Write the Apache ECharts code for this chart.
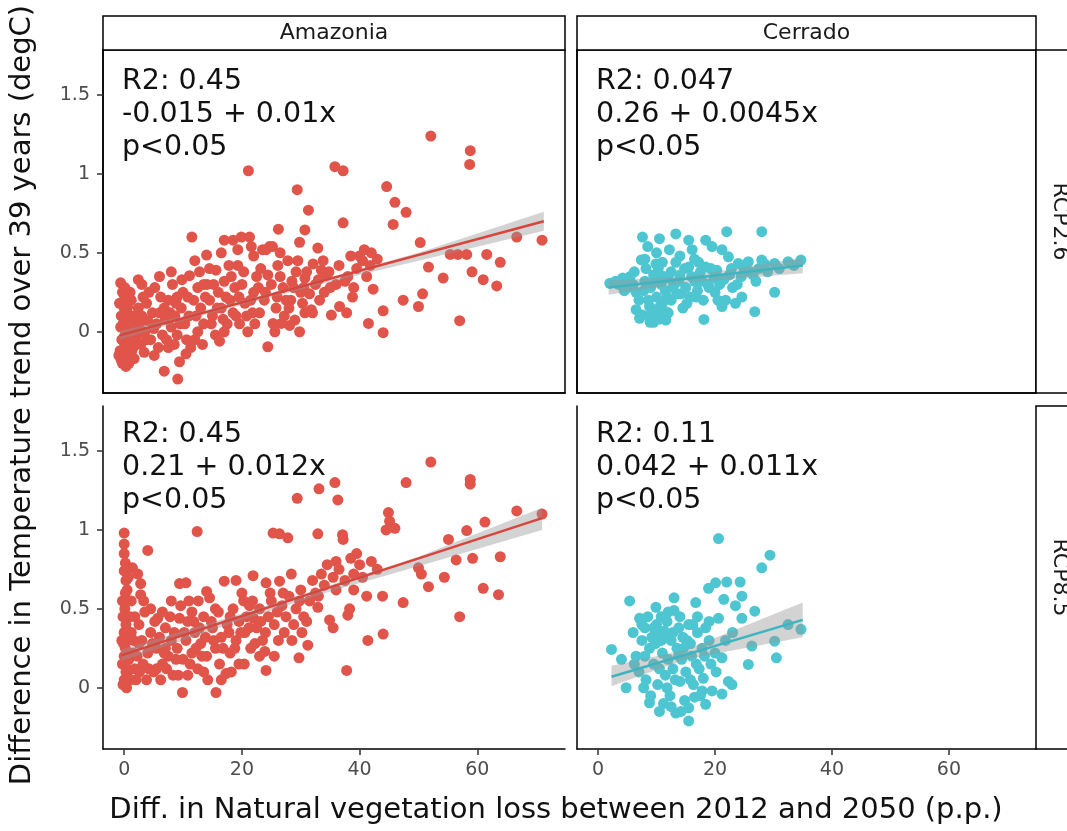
<!DOCTYPE html>
<html><head><meta charset="utf-8">
<script src="https://cdn.jsdelivr.net/npm/echarts@6/dist/echarts.min.js"></script>
<style>html,body{margin:0;padding:0;background:#fff}#c{width:1067px;height:831px}</style>
</head><body><div id="c"></div>
<script>
const regions = ['Amazonia', 'Cerrado'];
const scenarios = ['RCP2.6', 'RCP8.5'];
const xTicks = [0, 20, 40, 60];
const yTicks = [0, 0.5, 1, 1.5];
const xTitle = 'Diff. in Natural vegetation loss between 2012 and 2050 (p.p.)';
const yTitle = 'Difference in Temperature trend over 39 years (degC)';
const statsText = [
  ['R2: 0.45', '-0.015 + 0.01x', 'p<0.05'],
  ['R2: 0.047', '0.26 + 0.0045x', 'p<0.05'],
  ['R2: 0.45', '0.21 + 0.012x', 'p<0.05'],
  ['R2: 0.11', '0.042 + 0.011x', 'p<0.05']
];

// Amazonia, RCP2.6
const amazonia26 = [
[-0.8,0.18],[0,0.15],[0.5,0.12],[-0.5,0.1],[0.3,0.08],[0.8,0.05],[-0.6,0.03],[0.2,0.0],[0.6,-0.02],[-0.4,-0.05],[0.1,-0.08],[0.7,-0.1],[-0.7,-0.12],[0.2,-0.15],[0.4,-0.18],[-0.3,-0.2],[1.0,-0.17],[1.2,0.2],[1.5,0.1],[1.8,0.02],[2.0,-0.05],[1.3,-0.12],[2.4,0.15],[2.6,0.05],[2.2,-0.02],[3.0,0.1],[3.4,-0.13],[1.7,-0.17],[-0.6,0.31],[2.4,0.33],[-0.3,0.25],[0.5,0.22],[1.0,0.25],[3.5,0.0],[4.0,0.07],[4.5,-0.05],[3.8,0.18],[5.1,-0.15],[5.5,0.05],[6.0,0.12],[6.5,-0.02],[6.8,-0.25],[7.0,0.08],[7.5,0.2],[8.0,0.03],[8.5,-0.08],[9.1,-0.3],[9.4,-0.19],[9.7,0.15],[10.0,0.25],[10.5,-0.14],[10.3,0.05],[11.1,0.355],[11.5,0.6],[11.0,0.1],[11.8,0.2],[12.0,-0.05],[12.5,0.28],[13.0,0.15],[13.5,0.05],[14.0,0.486],[14.1,0.3],[14.5,0.2],[15.0,0.1],[15.6,0.39],[15.5,-0.02],[16.0,0.25],[16.5,0.15],[17.0,0.32],[17.5,0.05],[18.2,0.35],[18.5,0.58],[18.0,0.2],[19.3,0.52],[19.3,0.42],[19.0,0.1],[19.9,0.6],[20.0,0.3],[20.5,0.18],[21.1,1.02],[21.3,0.6],[21.6,0.54],[21.0,0.0],[22.0,0.25],[22.5,0.35],[23.0,0.12],[23.5,0.52],[24.1,0.52],[24.4,0.36],[24.4,-0.095],[24.7,0.54],[25.2,0.54],[25.6,0.0],[25.3,0.053],[26.1,0.42],[26.2,0.65],[26.7,0.053],[27.0,0.28],[27.5,0.2],[28.1,0.04],[28.5,0.32],[29.0,0.074],[29.2,0.38],[29.4,0.9],[29.8,0.567],[29.8,0.0],[30.0,0.25],[30.7,0.645],[30.7,0.34],[30.7,0.12],[31.3,0.77],[31.8,0.14],[32.1,0.43],[32.5,0.3],[32.9,0.53],[33.5,0.39],[34.0,0.25],[35.2,0.106],[35.8,1.046],[36.0,0.3],[36.6,0.16],[37.2,1.02],[37.2,0.69],[37.8,0.12],[38.0,0.35],[38.8,0.22],[39.5,0.4],[40.0,0.48],[40.5,0.45],[41.2,0.35],[41.5,0.053],[42.0,0.5],[42.3,0.27],[43.0,0.46],[44.0,0.133],[44.0,-0.006],[44.6,0.92],[45.7,0.68],[46.0,0.82],[47.4,0.2],[47.9,0.757],[50.0,0.16],[50.3,0.565],[50.7,0.24],[51.7,0.41],[52.1,1.24],[54.2,0.34],[55.4,0.49],[56.7,0.49],[57.0,0.07],[58.2,0.49],[58.7,1.06],[58.8,1.147],[59.1,0.38],[61.0,0.33],[61.6,0.49],[63.3,0.29],[63.9,0.44],[66.7,0.6],[71.0,0.58],
[0.0,0.2],[0.4,-0.1],[-0.2,0.05],[0.9,0.0],[0.6,0.16],[-0.9,-0.15],[0.3,-0.22],[1.4,0.04],[1.1,-0.06],[2.8,-0.08],[3.2,0.22],[4.2,0.25],[4.8,0.12],[5.2,0.28],[5.8,-0.1],[6.2,0.22],[7.2,-0.05],[7.8,0.12],[8.2,0.3],[8.8,0.18],[9.0,-0.02],[9.5,0.05],[10.8,0.22],[11.3,-0.1],[12.2,0.1],[12.8,0.38],[13.3,-0.08],[13.8,0.22],[14.8,0.05],[15.2,0.3],[16.2,-0.06],[16.8,0.08],[17.3,0.22],[17.8,0.42],[18.8,0.28],[19.6,0.05],[20.3,0.38],[20.8,0.1],[21.5,0.2],[22.2,0.05],[22.8,0.28],[23.2,0.4],[23.8,0.2],[25.0,0.3],[25.8,0.15],[26.5,0.35],[27.2,0.1],[27.8,0.45],[28.3,0.2],[28.8,0.28],[29.5,0.45],[30.3,0.18],[31.0,0.38],[31.5,0.24],[32.0,0.12],[33.0,0.33],[33.8,0.45],[34.5,0.36],[35.0,0.28],[36.5,0.42],[37.5,0.32],[38.5,0.48],[39.0,0.28],[40.8,0.52],[41.8,0.42],[12.0,0.45],[14.5,0.4],[16.5,0.5],[17.0,0.58],[22.0,0.48],[26.5,0.5],[3.0,0.3],[6.0,0.35],[8.0,0.38],[9.8,0.33],
[0.1,0.28],[-0.5,-0.18],[0.8,-0.2],[0.2,0.1],[-0.1,-0.12],[1.5,-0.1],[2.2,0.08],[3.8,-0.05],[5.0,0.02],[6.8,0.15],[7.5,-0.1],[8.6,0.1],[9.0,0.22],[10.6,-0.05],[12.5,0.0],[13.5,0.3],[15.8,0.15],[17.0,0.0],[18.5,0.12],[19.5,0.22],[21.8,0.12],[24.0,0.25],[26.0,0.22],[28.0,0.15],[30.5,0.28],[33.2,0.2],[34.8,0.38]
];

// Cerrado, RCP2.6
const cerrado26 = [
[2.0,0.307],[4.2,0.34],[3.5,0.3],[5.0,0.28],[5.5,0.35],[6.0,0.3],[6.5,0.25],[7.1,0.085],[7.4,0.455],[7.6,0.6],[7.6,0.106],[8.0,0.32],[8.5,0.54],[8.8,0.16],[9.0,0.28],[9.5,0.36],[9.9,0.43],[9.9,0.12],[10.0,0.22],[10.5,0.59],[10.8,0.3],[11.0,0.18],[11.6,0.074],[11.6,0.127],[11.5,0.26],[12.0,0.34],[12.2,0.52],[12.5,0.2],[13.0,0.3],[13.3,0.62],[13.3,0.44],[13.5,0.24],[14.0,0.36],[14.5,0.15],[15.0,0.28],[15.5,0.58],[15.5,0.41],[15.8,0.22],[16.1,0.52],[16.5,0.32],[17.0,0.26],[17.5,0.38],[18.0,0.2],[18.1,0.078],[18.4,0.58],[18.4,0.41],[18.8,0.3],[19.5,0.54],[19.8,0.34],[20.0,0.25],[20.3,0.39],[20.8,0.3],[21.2,0.52],[21.2,0.16],[21.8,0.2],[22.0,0.634],[22.3,0.475],[22.5,0.36],[23.0,0.28],[23.5,0.18],[24.0,0.433],[24.6,0.22],[24.5,0.35],[25.7,0.444],[26.0,0.38],[26.8,0.127],[27.0,0.32],[28.0,0.634],[28.0,0.454],[29.0,0.38],[30.2,0.433],[30.2,0.25],[31.0,0.4],[32.5,0.444],[33.5,0.42],[34.7,0.454],
[3.0,0.32],[4.5,0.26],[5.2,0.32],[6.2,0.38],[7.0,0.2],[7.8,0.26],[8.2,0.4],[8.6,0.2],[9.2,0.14],[9.8,0.32],[10.3,0.4],[10.6,0.16],[11.2,0.35],[11.8,0.22],[12.8,0.28],[13.8,0.32],[14.2,0.24],[14.8,0.4],[15.2,0.18],[16.0,0.35],[16.8,0.22],[17.2,0.44],[17.8,0.32],[19.0,0.28],[19.3,0.4],[20.5,0.2],[21.5,0.33],[22.8,0.4],[23.8,0.3],[25.0,0.4],[26.5,0.36],[27.5,0.4],[28.5,0.43],[6.5,0.14],[8.9,0.06],[9.5,0.06],
[8.0,0.46],[10.0,0.5],[11.0,0.44],[12.5,0.38],[14.0,0.48],[16.5,0.46],[9.0,0.1],[10.5,0.08],[12.0,0.12]
];

// Amazonia, RCP8.5
const amazonia85 = [
[0,0.98],[0,0.91],[0,0.85],[0.2,0.79],[0,0.74],[-0.3,0.55],[0.1,0.5],[-0.2,0.45],[0.3,0.4],[0,0.35],[-0.4,0.3],[0.2,0.25],[0,0.2],[-0.3,0.15],[0.3,0.1],[0,0.05],[-0.2,0.02],[0.4,0.0],[0.6,0.3],[0.8,0.18],[0.5,0.08],[1.4,0.76],[2.3,0.72],[2.8,0.66],[2.8,0.59],[4.0,0.87],[1.0,0.45],[1.2,0.35],[1.5,0.22],[1.8,0.12],[2.0,0.05],[2.5,0.4],[3.0,0.3],[3.2,0.15],[3.5,0.48],[4.0,0.22],[4.5,0.35],[5.0,0.1],[5.7,0.44],[5.5,0.25],[6.0,0.32],[6.5,0.15],[7.0,0.38],[7.5,0.2],[8.0,0.3],[8.3,0.08],[9.0,0.25],[9.4,0.66],[9.4,0.44],[9.9,-0.03],[10.0,0.18],[10.5,0.665],[10.8,0.42],[10.5,0.3],[11.0,0.55],[11.5,0.22],[12.0,0.35],[12.4,0.99],[12.5,0.12],[13.0,0.28],[13.5,0.45],[14.0,0.61],[14.5,0.57],[14.0,0.2],[15.0,0.38],[15.6,-0.03],[15.5,0.25],[16.0,0.48],[16.5,0.32],[17.0,0.675],[17.3,0.09],[17.5,0.4],[18.0,0.22],[18.5,0.5],[19.0,0.68],[19.0,0.3],[19.5,0.42],[20.3,0.55],[20.4,0.15],[20.5,0.35],[21.3,0.52],[21.5,0.25],[21.9,0.71],[22.0,0.44],[22.5,0.38],[23.0,0.5],[23.5,0.3],[23.9,0.23],[24.1,0.11],[24.1,0.665],[24.5,0.45],[25.0,0.55],[25.3,0.98],[25.5,0.4],[26.0,0.48],[26.4,0.975],[26.4,0.675],[26.8,0.52],[27.2,0.35],[27.8,0.95],[27.5,0.45],[28.0,0.58],[28.4,0.72],[28.8,0.4],[29.4,1.2],[29.2,0.5],[29.7,0.19],[30.0,0.62],[30.5,0.45],[31.2,0.27],[31.5,0.55],[32.0,0.68],[32.5,0.6],[32.9,0.975],[32.9,0.51],[33.1,1.26],[33.5,0.72],[34.0,0.65],[34.5,0.78],[34.9,0.43],[35.5,0.38],[35.8,1.3],[35.5,0.7],[36.3,1.19],[36.0,0.8],[36.5,0.75],[37.1,0.97],[37.2,0.94],[37.5,0.68],[37.8,0.11],[38.0,0.46],[38.3,0.5],[38.5,0.82],[39.0,0.72],[39.5,0.85],[40.0,0.78],[40.5,0.7],[41.2,0.58],[41.4,0.3],[42.0,0.8],[43.0,0.75],[43.9,0.58],[44.0,0.34],[44.5,1.0],[44.9,1.11],[45.1,1.055],[46.0,1.01],[47.4,0.54],[47.9,1.3],[50.0,0.76],[50.5,0.72],[51.7,0.64],[52.1,1.43],[54.4,0.7],[55.1,0.94],[56.4,0.81],[57.0,0.45],[58.2,0.996],[58.8,1.32],[58.8,1.29],[59.2,0.82],[61.0,0.63],[61.3,1.05],[63.6,0.59],[63.9,0.83],[66.7,1.12],[71.0,1.1],
[0.5,0.62],[0.3,0.68],[0.7,0.7],[1.0,0.05],[1.6,0.3],[2.2,0.2],[2.6,0.1],[3.8,0.05],[4.2,0.12],[4.8,0.28],[5.2,0.42],[6.2,0.05],[6.8,0.22],[7.2,0.12],[7.8,0.45],[8.5,0.35],[8.8,0.18],[9.2,0.08],[10.2,0.35],[11.2,0.15],[11.8,0.42],[12.2,0.25],[12.8,0.38],[13.2,0.2],[13.8,0.32],[14.2,0.05],[14.8,0.42],[15.2,0.3],[16.2,0.15],[16.8,0.25],[17.8,0.35],[18.2,0.1],[18.8,0.25],[19.8,0.35],[20.8,0.45],[21.2,0.38],[22.2,0.28],[23.2,0.42],[24.0,0.35],[25.5,0.2],[26.2,0.3],[28.5,0.3],[30.2,0.35],[31.0,0.42],
[0.2,0.6],[-0.1,0.28],[0.6,0.12],[1.2,0.55],[1.8,0.45],[2.5,0.28],[3.3,0.55],[4.5,0.5],[5.5,0.12],[6.5,0.48],[7.0,0.25],[8.0,0.55],[9.6,0.52],[10.8,0.08],[11.5,0.48],[12.6,0.55],[13.5,0.1],[15.5,0.5],[16.5,0.05],[18.0,0.45],[19.5,0.15],[20.0,0.6],[21.8,0.55],[23.0,0.2],[24.8,0.6],[27.0,0.6],[29.8,0.55],[33.0,0.58],[36.0,0.62],[39.0,0.62]
];

// Cerrado, RCP8.5
const cerrado85 = [
[2.3,0.243],[4.0,0.18],[4.8,0.0],[5.4,0.55],[6.0,0.35],[6.5,0.2],[7.0,0.1],[7.1,0.44],[7.5,0.3],[8.0,0.38],[8.2,0.05],[8.8,-0.095],[8.8,0.25],[9.2,0.32],[9.5,0.15],[9.9,0.51],[10.0,0.4],[10.2,0.02],[10.5,-0.15],[10.8,0.3],[11.0,0.22],[11.3,0.36],[11.5,0.08],[11.8,0.42],[12.0,0.18],[12.3,-0.05],[12.5,0.3],[12.8,0.12],[13.0,0.57],[13.0,0.49],[13.3,-0.16],[13.5,0.25],[13.8,0.38],[14.0,0.04],[14.3,0.18],[14.5,0.32],[14.8,-0.08],[15.0,0.1],[15.5,0.4],[15.5,-0.21],[15.5,-0.127],[15.8,0.28],[16.0,0.2],[16.3,0.02],[16.7,0.54],[17.0,0.35],[17.3,0.12],[17.5,-0.05],[17.8,0.25],[18.0,0.06],[18.4,0.38],[18.4,-0.105],[18.9,0.63],[19.0,0.3],[19.3,0.15],[19.5,-0.02],[20.1,0.665],[20.0,0.22],[20.6,0.945],[20.6,0.44],[21.2,0.19],[21.2,-0.04],[21.5,0.56],[22.0,0.67],[22.3,0.04],[22.9,0.02],[23.0,0.35],[23.5,0.52],[24.3,0.67],[24.6,0.58],[24.6,0.44],[25.7,0.148],[26.3,0.264],[26.8,0.485],[28.0,0.76],[29.4,0.84],[30.2,0.295],[30.5,0.19],[32.5,0.4],[34.7,0.37],
[6.2,0.15],[7.8,0.0],[8.5,0.45],[9.0,-0.05],[9.8,0.28],[10.5,0.12],[11.2,-0.1],[12.0,0.48],[12.8,0.35],[13.2,0.05],[14.0,0.45],[14.6,0.25],[15.2,0.3],[16.5,-0.06],[17.0,0.45],[18.2,0.2],[19.0,0.42],[20.2,0.1],[21.8,0.3],[16.2,0.4],[11.5,0.35],[10.3,0.35],
[9.5,0.38],[10.8,0.45],[11.8,0.0],[12.5,-0.12],[13.8,0.2],[14.2,-0.15],[15.8,0.05],[16.8,0.15],[17.8,-0.02],[8.0,0.2],[7.5,0.4]
];

// fitted lines (endpoints) and confidence bands [x, lower, upper]
const fitAmazonia26 = [[-0.8, -0.023], [71.3, 0.70]];
const fitCerrado26 = [[1.8, 0.28], [35, 0.42]];
const fitAmazonia85 = [[-0.5, 0.205], [71.0, 1.075]];
const fitCerrado85 = [[2.3, 0.07], [35, 0.43]];
const bandAmazonia26 = [[-0.8, -0.05, 0.004], [10, 0.07, 0.10], [20, 0.17, 0.20], [35, 0.315, 0.345], [50, 0.45, 0.50], [71.3, 0.64, 0.76]];
const bandCerrado26 = [[1.8, 0.235, 0.325], [15, 0.31, 0.35], [35, 0.37, 0.47]];
const bandAmazonia85 = [[-0.5, 0.17, 0.24], [10, 0.30, 0.36], [20, 0.43, 0.47], [35, 0.61, 0.65], [50, 0.77, 0.83], [71.0, 1.0, 1.14]];
const bandCerrado85 = [[2.3, 0.01, 0.14], [15, 0.18, 0.24], [35, 0.32, 0.54]];

const panels = [
  { pts: amazonia26, fit: fitAmazonia26, band: bandAmazonia26, color: '#E0544A', line: '#D9443B' },
  { pts: cerrado26, fit: fitCerrado26, band: bandCerrado26, color: '#4EC6D2', line: '#3DB5C0' },
  { pts: amazonia85, fit: fitAmazonia85, band: bandAmazonia85, color: '#E0544A', line: '#D9443B' },
  { pts: cerrado85, fit: fitCerrado85, band: bandCerrado85, color: '#4EC6D2', line: '#3DB5C0' }
];

const FONT = "'DejaVu Sans', sans-serif";
const X_MIN = -3.6, X_MAX = 74.9, Y_MIN = -0.388, Y_MAX = 1.785;
const boxes = [
  { left: 103, top: 50, width: 462, height: 343 },
  { left: 577, top: 50, width: 459, height: 343 },
  { left: 103, top: 406, width: 462, height: 343 },
  { left: 577, top: 406, width: 459, height: 343 }
];

const grid = boxes.map((b, i) => ({
  left: b.left, top: b.top, width: b.width, height: b.height,
  show: i < 2, borderColor: '#000', borderWidth: 1.5, backgroundColor: 'transparent',
  containLabel: false
}));

const xAxis = boxes.map((b, i) => {
  const bottom = i >= 2;
  return {
    gridIndex: i, type: 'value', min: X_MIN, max: X_MAX,
    splitLine: { show: false },
    axisLine: { show: true, onZero: false, lineStyle: { color: '#000', width: 1.5 } },
    axisTick: { show: bottom, customValues: xTicks, length: 6, lineStyle: { color: '#333', width: 1.5 } },
    axisLabel: { show: bottom, customValues: xTicks, margin: 12, color: '#4d4d4d', fontSize: 19, fontFamily: FONT }
  };
});

const yAxis = boxes.map((b, i) => {
  const left = i % 2 === 0;
  return {
    gridIndex: i, type: 'value', min: Y_MIN, max: Y_MAX,
    splitLine: { show: false },
    axisLine: { show: true, onZero: false, lineStyle: { color: '#000', width: 1.5 } },
    axisTick: { show: left, customValues: yTicks, length: 6, lineStyle: { color: '#333', width: 1.5 } },
    axisLabel: { show: left, customValues: yTicks, margin: 13, color: '#4d4d4d', fontSize: 19, fontFamily: FONT }
  };
});

const series = [];
panels.forEach((p, i) => {
  series.push({
    type: 'scatter', xAxisIndex: i, yAxisIndex: i, data: p.pts, symbolSize: 11, z: 2,
    itemStyle: { color: p.color, opacity: 1 }, silent: true, animation: false
  });
  series.push({
    type: 'custom', xAxisIndex: i, yAxisIndex: i, data: p.band, z: 3, silent: true, animation: false,
    encode: { x: 0, y: [1, 2] },
    renderItem: (params, api) => {
      if (params.dataIndex !== 0) return null;
      const up = p.band.map(r => api.coord([r[0], r[2]]));
      const lo = p.band.map(r => api.coord([r[0], r[1]])).reverse();
      return { type: 'polygon', shape: { points: up.concat(lo) }, style: { fill: 'rgba(150,150,150,0.42)' } };
    }
  });
  series.push({
    type: 'line', xAxisIndex: i, yAxisIndex: i, data: p.fit, symbol: 'none', z: 4, silent: true, animation: false,
    lineStyle: { color: p.line, width: 2.5 }
  });
});

const graphic = [];
// column strips
regions.forEach((r, j) => {
  const b = boxes[j];
  graphic.push({ type: 'rect', shape: { x: b.left, y: 16, width: b.width, height: 34 }, style: { fill: '#fff', stroke: '#000', lineWidth: 1.5 }, z: 10 });
  graphic.push({ type: 'text', x: b.left + b.width / 2, y: 33, style: { text: r, fill: '#1a1a1a', font: '22px ' + FONT, textAlign: 'center', textVerticalAlign: 'middle' }, z: 11 });
});
// row strips
scenarios.forEach((s, k) => {
  const b = boxes[k * 2 + 1];
  graphic.push({ type: 'rect', shape: { x: 1036, y: b.top, width: 60, height: b.height }, style: { fill: '#fff', stroke: '#000', lineWidth: 1.5 }, z: 10 });
  graphic.push({ type: 'text', x: 1060, y: b.top + b.height / 2, rotation: -Math.PI / 2, style: { text: s, fill: '#1a1a1a', font: '22px ' + FONT, textAlign: 'center', textVerticalAlign: 'middle' }, z: 11 });
});
// stats annotations
statsText.forEach((lines, i) => {
  const b = boxes[i];
  const tops = i < 2 ? 65 : 418;
  graphic.push({ type: 'text', x: b.left + 19, y: tops, style: { text: lines.join('\n'), fill: '#111', font: '28.5px ' + FONT, lineHeight: 33, textAlign: 'left', textVerticalAlign: 'top' }, z: 12 });
});
// axis titles
graphic.push({ type: 'text', x: 556, y: 810, style: { text: xTitle, fill: '#111', font: '29px ' + FONT, textAlign: 'center', textVerticalAlign: 'middle' } });
graphic.push({ type: 'text', x: 22, y: 395, rotation: Math.PI / 2, style: { text: yTitle, fill: '#111', font: '29px ' + FONT, textAlign: 'center', textVerticalAlign: 'middle' } });

const chart = echarts.init(document.getElementById('c'), null, { renderer: 'canvas' });
chart.setOption({ backgroundColor: '#fff', animation: false, grid, xAxis, yAxis, series, graphic });
</script>
</body></html>
